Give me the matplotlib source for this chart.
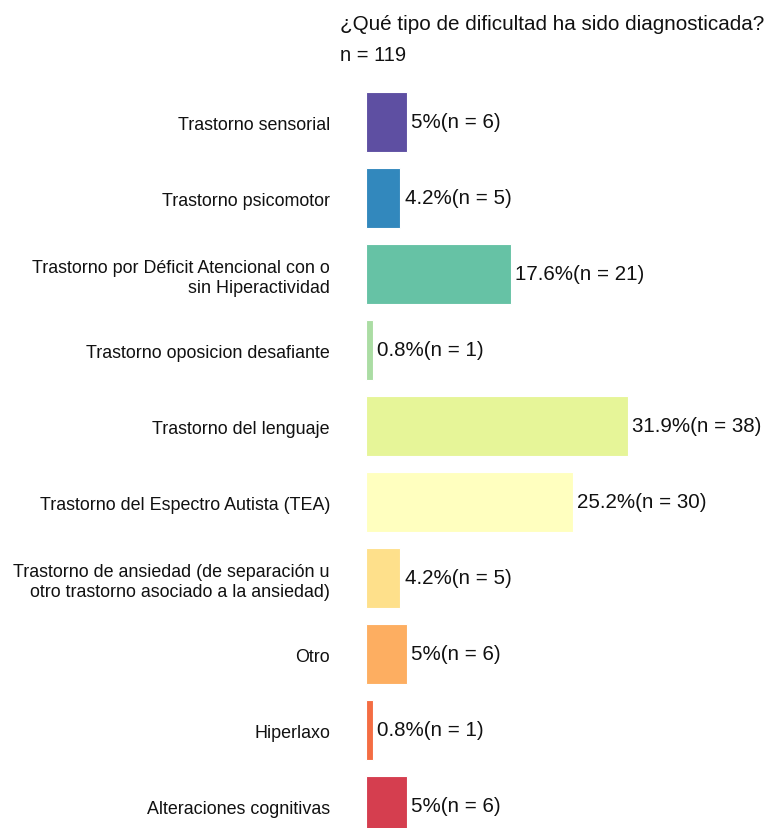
import numpy as np
import matplotlib.pyplot as plt

plt.rcParams['font.family'] = ['Liberation Sans', 'DejaVu Sans']

categories = [
    'Trastorno sensorial',
    'Trastorno psicomotor',
    'Trastorno por Déficit Atencional con o\nsin Hiperactividad',
    'Trastorno oposicion desafiante',
    'Trastorno del lenguaje',
    'Trastorno del Espectro Autista (TEA)',
    'Trastorno de ansiedad (de separación u\notro trastorno asociado a la ansiedad)',
    'Otro',
    'Hiperlaxo',
    'Alteraciones cognitivas',
]
percents = [5, 4.2, 17.6, 0.8, 31.9, 25.2, 4.2, 5, 0.8, 5]
counts = [6, 5, 21, 1, 38, 30, 5, 6, 1, 6]
colors = ['#5e4fa2', '#3288bd', '#66c2a5', '#abdda4', '#e6f598',
          '#ffffbf', '#fee08b', '#fdae61', '#f46d43', '#d53e4f']

fig = plt.figure(figsize=(7.72, 8.29), dpi=100)
ax = fig.add_axes([366 / 772, 0, 0.4786, (829 - 85) / 829])

y = np.arange(len(categories))
ax.barh(y, percents, height=0.79, color=colors,
        edgecolor='white', linewidth=0.8)

for yi, p, n in zip(y, percents, counts):
    ax.text(p + 0.5, yi, f'{p:g}%(n = {n})', va='center', ha='left',
            fontsize=14.8, color='#111111')

ax.set_xlim(0, 45)
ax.set_ylim(-0.5 + (829 - 85) / 76, -0.5)
ax.set_yticks(y)
ax.set_yticklabels(categories, fontsize=12.9, color='#111111')
ax.tick_params(axis='y', length=0, pad=26)
ax.set_xticks([])
for s in ax.spines.values():
    s.set_visible(False)

fig.text(340 / 772, 1 - 30 / 829, '¿Qué tipo de dificultad ha sido diagnosticada?',
         fontsize=14.9, ha='left', va='baseline', color='#111111')
fig.text(340 / 772, 1 - 61 / 829, 'n = 119', fontsize=14.5, ha='left',
         va='baseline', color='#111111')

fig.savefig('out.png', dpi=100)
